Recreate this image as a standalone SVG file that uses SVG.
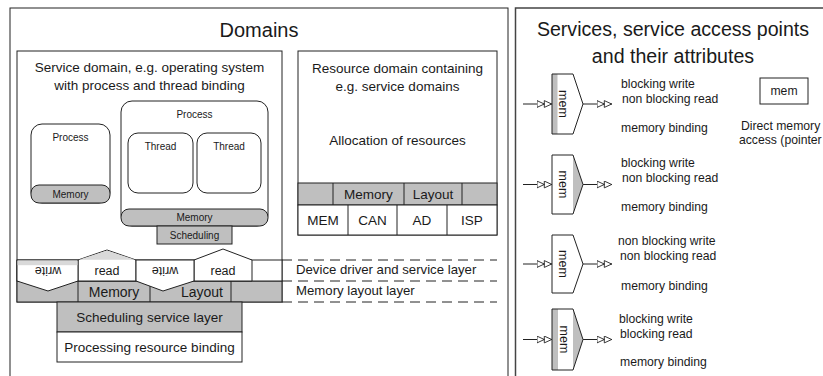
<svg xmlns="http://www.w3.org/2000/svg" width="823" height="376" viewBox="0 0 823 376">
<defs>
<style>
text{font-family:"Liberation Sans",Arial,sans-serif;fill:#1a1a1a}
.ln{fill:none;stroke:#222;stroke-width:1}
.w{fill:#fff;stroke:#222;stroke-width:1}
.g{fill:#bfbfbf;stroke:#222;stroke-width:1}
.gf{fill:#bfbfbf}
.lg{fill:#d9d9d9}
.t20{font-size:20px}
.t19{font-size:19.6px}
.t14{font-size:14px}
.t135{font-size:13.5px}
.t132{font-size:13.2px}
.t125{font-size:12.5px}
.t12{font-size:12.2px}
.t10{font-size:10px}
.c{text-anchor:middle}
.dash{stroke:#222;stroke-width:1;stroke-dasharray:10 6;fill:none}
.conn{stroke:#222;stroke-width:1;fill:none;marker-end:url(#dbl)}
</style>
<marker id="dbl" viewBox="0 0 16 8" refX="15.5" refY="4" markerWidth="16" markerHeight="8" markerUnits="userSpaceOnUse" orient="auto">
<path d="M0.5,0.6 L7.8,4 L0.5,7.4 Z M7.8,0.6 L15.2,4 L7.8,7.4 Z" fill="#fff" stroke="#222" stroke-width="0.9"/>
</marker>
</defs>
<rect width="823" height="376" fill="#fff"/>

<g id="domains-panel">
<rect x="10" y="8" width="498" height="380" class="w"/>
<text x="259" y="37" class="t20 c">Domains</text>
</g>

<g id="service-domain">
<rect x="17" y="51" width="265" height="251" class="w"/>
<text x="149.5" y="72" class="t135 c">Service domain, e.g. operating system</text>
<text x="149.5" y="90" class="t135 c">with process and thread binding</text>
</g>

<g id="process-1">
<rect x="31" y="124" width="79" height="79" rx="11" class="w"/>
<rect x="31" y="185" width="79" height="18" rx="8" class="g"/>
<text x="70.5" y="141" class="t10 c">Process</text>
<text x="70.5" y="198" class="t10 c">Memory</text>
</g>

<g id="process-2">
<rect x="121" y="101" width="147" height="125" rx="11" class="w"/>
<rect x="121" y="209" width="147" height="17" rx="8" class="g"/>
<text x="194.5" y="118" class="t10 c">Process</text>
<text x="194.5" y="221" class="t10 c">Memory</text>
</g>

<g id="thread-1">
<rect x="128" y="133" width="65" height="60" rx="10" class="w"/>
<text x="160.5" y="150" class="t10 c">Thread</text>
</g>

<g id="thread-2">
<rect x="197" y="133" width="64" height="60" rx="10" class="w"/>
<text x="229" y="150" class="t10 c">Thread</text>
</g>

<g id="scheduling">
<rect x="157" y="226" width="75" height="18" class="g"/>
<text x="194.5" y="239" class="t10 c">Scheduling</text>
</g>

<g id="memory-layout-layer">
<rect x="17" y="281" width="265" height="21" class="g"/>
<line x1="78" y1="281" x2="78" y2="302" class="ln"/>
<line x1="150" y1="281" x2="150" y2="302" class="ln"/>
<line x1="231" y1="281" x2="231" y2="302" class="ln"/>
<text x="114" y="297" class="t14 c">Memory</text>
<text x="202" y="297" class="t14 c">Layout</text>
</g>

<g id="device-driver-layer">
<rect x="17" y="260" width="265" height="21" class="w"/>
</g>

<g id="read-1">
<polygon points="78,281 78,260 107,250 136,260 136,281" class="w"/>
<polygon points="78.7,259.8 107,250.6 135.3,259.8" class="lg"/>
<text x="107" y="275" class="t125 c">read</text>
</g>

<g id="read-2">
<polygon points="194,281 194,260 223,249 252,260 252,281" class="w"/>
<text x="223" y="275" class="t125 c">read</text>
</g>

<g id="write-1">
<polygon points="17,260 78,260 78,281 48,291 17,281" class="w"/>
<rect x="17.6" y="260.6" width="59.8" height="4.6" class="lg"/>
<text x="48" y="275" class="t125 c" transform="rotate(180 48 271)">write</text>
</g>

<g id="write-2">
<polygon points="136,260 194,260 194,281 163,291 136,281" class="w"/>
<text x="165" y="275" class="t125 c" transform="rotate(180 165 271)">write</text>
</g>

<g id="layer-labels">
<line x1="282" y1="260" x2="497" y2="260" class="dash"/>
<line x1="282" y1="281" x2="497" y2="281" class="dash"/>
<line x1="282" y1="302" x2="497" y2="302" class="dash"/>
<text x="296" y="274" class="t132">Device driver and service layer</text>
<text x="296" y="295" class="t132">Memory layout layer</text>
</g>

<g id="scheduling-service-layer">
<rect x="57" y="302" width="185" height="30" class="g"/>
<text x="149.5" y="322" class="t135 c">Scheduling service layer</text>
</g>

<g id="processing-resource-binding">
<rect x="57" y="332" width="185" height="30" class="w"/>
<text x="149.5" y="352" class="t135 c">Processing resource binding</text>
</g>

<g id="resource-domain">
<rect x="298" y="51" width="199" height="184" class="w"/>
<text x="397.5" y="73" class="t135 c">Resource domain containing</text>
<text x="397.5" y="91" class="t135 c">e.g. service domains</text>
<text x="397.5" y="145" class="t135 c">Allocation of resources</text>
<rect x="298" y="183" width="199" height="22" class="g"/>
<line x1="333" y1="183" x2="333" y2="205" class="ln"/>
<line x1="404" y1="183" x2="404" y2="205" class="ln"/>
<line x1="462" y1="183" x2="462" y2="205" class="ln"/>
<text x="368.5" y="199" class="t135 c">Memory</text>
<text x="433" y="199" class="t135 c">Layout</text>
<rect x="298" y="205" width="199" height="30" class="w"/>
<line x1="348" y1="205" x2="348" y2="235" class="ln"/>
<line x1="397" y1="205" x2="397" y2="235" class="ln"/>
<line x1="447" y1="205" x2="447" y2="235" class="ln"/>
<text x="323" y="225" class="t135 c">MEM</text>
<text x="372.5" y="225" class="t135 c">CAN</text>
<text x="422" y="225" class="t135 c">AD</text>
<text x="472" y="225" class="t135 c">ISP</text>
</g>

<g id="services-panel">
<rect x="515.5" y="8" width="330" height="380" fill="#fff" stroke="#444" stroke-width="1.5"/>
<text x="673" y="36" class="t19 c">Services, service access points</text>
<text x="673" y="63" class="t19 c">and their attributes</text>
</g>

<g id="connectors">
<line x1="523" y1="104" x2="552" y2="104" class="conn"/>
<line x1="583" y1="104" x2="612" y2="104" class="conn"/>
<line x1="523" y1="184.5" x2="552" y2="184.5" class="conn"/>
<line x1="583" y1="184.5" x2="612" y2="184.5" class="conn"/>
<line x1="523" y1="264" x2="552" y2="264" class="conn"/>
<line x1="583" y1="264" x2="612" y2="264" class="conn"/>
<line x1="523" y1="339.5" x2="552" y2="339.5" class="conn"/>
<line x1="583" y1="339.5" x2="612" y2="339.5" class="conn"/>
</g>

<g id="sap-1">
<polygon points="552,74 573,74 583,104 573,134 552,134" fill="#fff"/>
<rect x="552" y="74" width="5.5" height="60" class="gf"/>
<polygon points="552,74 573,74 583,104 573,134 552,134" class="ln"/>
<text x="562" y="107.3" class="t125 c" transform="rotate(90 562 104)">mem</text>
<text x="621" y="88" class="t12">blocking write</text>
<text x="622" y="103" class="t12">non blocking read</text>
<text x="621" y="132" class="t12">memory binding</text>
</g>

<g id="sap-2">
<polygon points="552,155 573,155 583,184.5 573,214 552,214" fill="#fff"/>
<polygon points="573,155 583,184.5 573,214" class="gf"/>
<polygon points="552,155 573,155 583,184.5 573,214 552,214" class="ln"/>
<text x="562" y="187.8" class="t125 c" transform="rotate(90 562 184.5)">mem</text>
<text x="621" y="167" class="t12">blocking write</text>
<text x="622" y="182" class="t12">non blocking read</text>
<text x="621" y="211" class="t12">memory binding</text>
</g>

<g id="sap-3">
<polygon points="552,235 573,235 583,264 573,293 552,293" class="w"/>
<text x="562" y="267.3" class="t125 c" transform="rotate(90 562 264)">mem</text>
<text x="618" y="245" class="t12">non blocking write</text>
<text x="620" y="260" class="t12">non blocking read</text>
<text x="621" y="290" class="t12">memory binding</text>
</g>

<g id="sap-4">
<polygon points="552,309 573,309 583,339.5 573,370 552,370" fill="#fff"/>
<rect x="552" y="309" width="6" height="61" class="gf"/>
<polygon points="573,309 583,339.5 573,370" class="gf"/>
<polygon points="552,309 573,309 583,339.5 573,370 552,370" class="ln"/>
<text x="563" y="342.8" class="t125 c" transform="rotate(90 563 339.5)">mem</text>
<text x="619" y="323" class="t12">blocking write</text>
<text x="620" y="338" class="t12">blocking read</text>
<text x="620" y="366" class="t12">memory binding</text>
</g>

<g id="direct-memory">
<rect x="760" y="78" width="48" height="26" class="w"/>
<text x="784" y="95" class="t12 c">mem</text>
<text x="741" y="130" class="t12">Direct memory</text>
<text x="739" y="144" class="t12">access (pointer</text>
</g>
</svg>
